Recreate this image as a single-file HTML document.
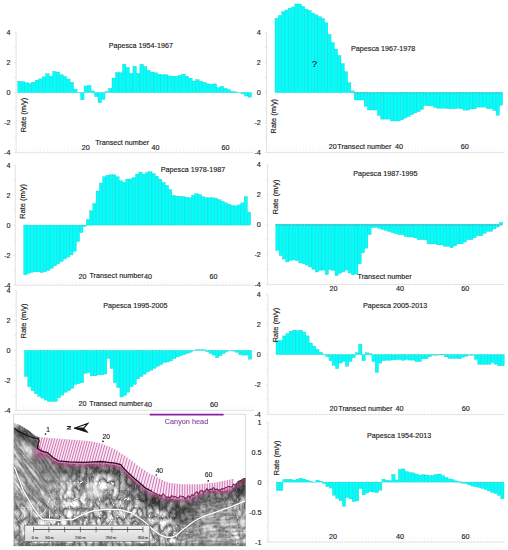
<!DOCTYPE html>
<html><head><meta charset="utf-8"><style>
html,body{margin:0;padding:0;background:#fff;}
svg{display:block;font-family:"Liberation Sans", sans-serif;}
text{stroke:#1c1c1c;stroke-width:0.14px;paint-order:stroke;}
</style></head><body>
<svg width="508" height="550" viewBox="0 0 508 550">
<rect width="508" height="550" fill="#fff"/>
<path d="M16.1 32.7V152.7H254" stroke="#dadada" stroke-width="0.8" fill="none"/><path d="M14.100000000000001 32.70h2M14.100000000000001 47.70h2M14.100000000000001 62.70h2M14.100000000000001 77.70h2M14.100000000000001 92.70h2M14.100000000000001 107.70h2M14.100000000000001 122.70h2M14.100000000000001 137.70h2M14.100000000000001 152.70h2" stroke="#dadada" stroke-width="0.6" fill="none"/><path d="M19.50 152.7v-5M22.99 152.7v-5M26.48 152.7v-5M29.97 152.7v-5M33.46 152.7v-5M36.95 152.7v-5M40.44 152.7v-5M43.93 152.7v-5M47.42 152.7v-5M50.91 152.7v-5M54.40 152.7v-5M57.89 152.7v-5M61.38 152.7v-5M64.87 152.7v-5M68.36 152.7v-5M71.85 152.7v-5M75.34 152.7v-5M78.83 152.7v-5M82.32 152.7v-5M85.81 152.7v-5M89.30 152.7v-5M92.79 152.7v-5M96.28 152.7v-5M99.77 152.7v-5M103.26 152.7v-5M106.75 152.7v-5M110.24 152.7v-5M113.73 152.7v-5M117.22 152.7v-5M120.71 152.7v-5M124.20 152.7v-5M127.69 152.7v-5M131.18 152.7v-5M134.67 152.7v-5M138.16 152.7v-5M141.65 152.7v-5M145.14 152.7v-5M148.63 152.7v-5M152.12 152.7v-5M155.61 152.7v-5M159.10 152.7v-5M162.59 152.7v-5M166.08 152.7v-5M169.57 152.7v-5M173.06 152.7v-5M176.55 152.7v-5M180.04 152.7v-5M183.53 152.7v-5M187.02 152.7v-5M190.51 152.7v-5M194.00 152.7v-5M197.49 152.7v-5M200.98 152.7v-5M204.47 152.7v-5M207.96 152.7v-5M211.45 152.7v-5M214.94 152.7v-5M218.43 152.7v-5M221.92 152.7v-5M225.41 152.7v-5M228.90 152.7v-5M232.39 152.7v-5M235.88 152.7v-5M239.37 152.7v-5M242.86 152.7v-5M246.35 152.7v-5M249.84 152.7v-5M253.33 152.7v-5" stroke="#f1f1f1" stroke-width="0.6" fill="none"/><text x="10.6" y="35.300000000000004" font-size="7.2" text-anchor="end" fill="#1a1a1a" >4</text><text x="10.6" y="65.3" font-size="7.2" text-anchor="end" fill="#1a1a1a" >2</text><text x="10.6" y="95.3" font-size="7.2" text-anchor="end" fill="#1a1a1a" >0</text><text x="10.6" y="125.3" font-size="7.2" text-anchor="end" fill="#1a1a1a" >-2</text><text x="10.6" y="155.29999999999998" font-size="7.2" text-anchor="end" fill="#1a1a1a" >-4</text><g fill="#05fdf9" stroke="#18ccd2" stroke-width="0.35"><rect x="17.80" y="81.31" width="3.49" height="11.29"/><rect x="21.29" y="81.76" width="3.49" height="10.84"/><rect x="24.78" y="82.67" width="3.49" height="9.93"/><rect x="28.26" y="83.42" width="3.49" height="9.18"/><rect x="31.75" y="82.22" width="3.49" height="10.38"/><rect x="35.24" y="80.11" width="3.49" height="12.49"/><rect x="38.73" y="78.90" width="3.49" height="13.70"/><rect x="42.22" y="76.80" width="3.49" height="15.80"/><rect x="45.70" y="73.79" width="3.49" height="18.81"/><rect x="49.19" y="76.35" width="3.49" height="16.25"/><rect x="52.68" y="71.53" width="3.49" height="21.07"/><rect x="56.17" y="72.13" width="3.49" height="20.47"/><rect x="59.66" y="74.69" width="3.49" height="17.91"/><rect x="63.14" y="76.50" width="3.49" height="16.10"/><rect x="66.63" y="79.05" width="3.49" height="13.55"/><rect x="70.12" y="82.22" width="3.49" height="10.38"/><rect x="73.61" y="89.14" width="3.49" height="3.46"/><rect x="77.10" y="92.15" width="3.49" height="0.45"/><rect x="80.59" y="92.60" width="3.49" height="7.22"/><rect x="84.07" y="85.98" width="3.49" height="6.62"/><rect x="87.56" y="85.38" width="3.49" height="7.22"/><rect x="91.05" y="90.94" width="3.49" height="1.66"/><rect x="94.54" y="92.60" width="3.49" height="4.06"/><rect x="98.03" y="92.60" width="3.49" height="10.08"/><rect x="101.51" y="92.60" width="3.49" height="6.77"/><rect x="105.00" y="91.55" width="3.49" height="1.05"/><rect x="108.49" y="88.39" width="3.49" height="4.21"/><rect x="111.98" y="78.00" width="3.49" height="14.60"/><rect x="115.47" y="72.58" width="3.49" height="20.02"/><rect x="118.95" y="72.73" width="3.49" height="19.87"/><rect x="122.44" y="64.16" width="3.49" height="28.44"/><rect x="125.93" y="67.47" width="3.49" height="25.13"/><rect x="129.42" y="73.34" width="3.49" height="19.26"/><rect x="132.91" y="66.26" width="3.49" height="26.34"/><rect x="136.39" y="73.34" width="3.49" height="19.26"/><rect x="139.88" y="64.31" width="3.49" height="28.29"/><rect x="143.37" y="66.56" width="3.49" height="26.04"/><rect x="146.86" y="70.33" width="3.49" height="22.27"/><rect x="150.35" y="72.13" width="3.49" height="20.47"/><rect x="153.83" y="72.73" width="3.49" height="19.87"/><rect x="157.32" y="74.24" width="3.49" height="18.36"/><rect x="160.81" y="74.69" width="3.49" height="17.91"/><rect x="164.30" y="74.69" width="3.49" height="17.91"/><rect x="167.79" y="75.89" width="3.49" height="16.71"/><rect x="171.27" y="76.20" width="3.49" height="16.40"/><rect x="174.76" y="76.20" width="3.49" height="16.40"/><rect x="178.25" y="75.29" width="3.49" height="17.31"/><rect x="181.74" y="74.09" width="3.49" height="18.51"/><rect x="185.23" y="76.35" width="3.49" height="16.25"/><rect x="188.71" y="78.15" width="3.49" height="14.45"/><rect x="192.20" y="81.01" width="3.49" height="11.59"/><rect x="195.69" y="79.66" width="3.49" height="12.94"/><rect x="199.18" y="81.31" width="3.49" height="11.29"/><rect x="202.67" y="82.37" width="3.49" height="10.23"/><rect x="206.16" y="83.87" width="3.49" height="8.73"/><rect x="209.64" y="84.17" width="3.49" height="8.43"/><rect x="213.13" y="83.87" width="3.49" height="8.73"/><rect x="216.62" y="87.63" width="3.49" height="4.97"/><rect x="220.11" y="86.28" width="3.49" height="6.32"/><rect x="223.60" y="88.39" width="3.49" height="4.21"/><rect x="227.08" y="89.74" width="3.49" height="2.86"/><rect x="230.57" y="91.40" width="3.49" height="1.20"/><rect x="234.06" y="91.85" width="3.49" height="0.75"/><rect x="237.55" y="92.30" width="3.49" height="0.30"/><rect x="241.04" y="92.60" width="3.49" height="1.35"/><rect x="244.52" y="92.60" width="3.49" height="3.46"/><rect x="248.01" y="92.60" width="3.49" height="4.52"/></g><text x="140.8" y="48.4" font-size="7.2" text-anchor="middle" fill="#1a1a1a" >Papesca 1954-1967</text><text x="0" y="0" font-size="7.4" text-anchor="middle" fill="#1a1a1a" transform="translate(26.3 115.1) rotate(-90)">Rate (m/y)</text><text x="122.2" y="144.8" font-size="7.2" text-anchor="middle" fill="#1a1a1a" >Transect number</text><text x="85.8" y="150" font-size="7.2" text-anchor="middle" fill="#1a1a1a" >20</text><text x="155.6" y="150" font-size="7.2" text-anchor="middle" fill="#1a1a1a" >40</text><text x="225.6" y="150" font-size="7.2" text-anchor="middle" fill="#1a1a1a" >60</text><path d="M266.6 32.6V152.6H504.5" stroke="#dadada" stroke-width="0.8" fill="none"/><path d="M264.6 32.60h2M264.6 47.60h2M264.6 62.60h2M264.6 77.60h2M264.6 92.60h2M264.6 107.60h2M264.6 122.60h2M264.6 137.60h2M264.6 152.60h2" stroke="#dadada" stroke-width="0.6" fill="none"/><path d="M270.10 152.6v-5M273.40 152.6v-5M276.70 152.6v-5M280.00 152.6v-5M283.30 152.6v-5M286.60 152.6v-5M289.90 152.6v-5M293.20 152.6v-5M296.50 152.6v-5M299.80 152.6v-5M303.10 152.6v-5M306.40 152.6v-5M309.70 152.6v-5M313.00 152.6v-5M316.30 152.6v-5M319.60 152.6v-5M322.90 152.6v-5M326.20 152.6v-5M329.50 152.6v-5M332.80 152.6v-5M336.10 152.6v-5M339.40 152.6v-5M342.70 152.6v-5M346.00 152.6v-5M349.30 152.6v-5M352.60 152.6v-5M355.90 152.6v-5M359.20 152.6v-5M362.50 152.6v-5M365.80 152.6v-5M369.10 152.6v-5M372.40 152.6v-5M375.70 152.6v-5M379.00 152.6v-5M382.30 152.6v-5M385.60 152.6v-5M388.90 152.6v-5M392.20 152.6v-5M395.50 152.6v-5M398.80 152.6v-5M402.10 152.6v-5M405.40 152.6v-5M408.70 152.6v-5M412.00 152.6v-5M415.30 152.6v-5M418.60 152.6v-5M421.90 152.6v-5M425.20 152.6v-5M428.50 152.6v-5M431.80 152.6v-5M435.10 152.6v-5M438.40 152.6v-5M441.70 152.6v-5M445.00 152.6v-5M448.30 152.6v-5M451.60 152.6v-5M454.90 152.6v-5M458.20 152.6v-5M461.50 152.6v-5M464.80 152.6v-5M468.10 152.6v-5M471.40 152.6v-5M474.70 152.6v-5M478.00 152.6v-5M481.30 152.6v-5M484.60 152.6v-5M487.90 152.6v-5M491.20 152.6v-5M494.50 152.6v-5M497.80 152.6v-5M501.10 152.6v-5M504.40 152.6v-5" stroke="#f1f1f1" stroke-width="0.6" fill="none"/><text x="260.8" y="35.2" font-size="7.2" text-anchor="end" fill="#1a1a1a" >4</text><text x="260.8" y="65.2" font-size="7.2" text-anchor="end" fill="#1a1a1a" >2</text><text x="260.8" y="95.19999999999999" font-size="7.2" text-anchor="end" fill="#1a1a1a" >0</text><text x="260.8" y="125.19999999999999" font-size="7.2" text-anchor="end" fill="#1a1a1a" >-2</text><text x="260.8" y="155.2" font-size="7.2" text-anchor="end" fill="#1a1a1a" >-4</text><g fill="#05fdf9" stroke="#18ccd2" stroke-width="0.35"><rect x="275.00" y="18.20" width="3.30" height="74.40"/><rect x="278.30" y="15.50" width="3.30" height="77.10"/><rect x="281.60" y="11.80" width="3.30" height="80.80"/><rect x="284.90" y="10.00" width="3.30" height="82.60"/><rect x="288.20" y="8.20" width="3.30" height="84.40"/><rect x="291.50" y="6.90" width="3.30" height="85.70"/><rect x="294.80" y="4.00" width="3.30" height="88.60"/><rect x="298.10" y="4.00" width="3.30" height="88.60"/><rect x="301.40" y="6.40" width="3.30" height="86.20"/><rect x="304.70" y="9.10" width="3.30" height="83.50"/><rect x="308.00" y="10.50" width="3.30" height="82.10"/><rect x="311.30" y="13.10" width="3.30" height="79.50"/><rect x="314.60" y="14.90" width="3.30" height="77.70"/><rect x="317.90" y="16.70" width="3.30" height="75.90"/><rect x="321.20" y="18.50" width="3.30" height="74.10"/><rect x="324.50" y="22.70" width="3.30" height="69.90"/><rect x="327.80" y="34.50" width="3.30" height="58.10"/><rect x="331.10" y="42.70" width="3.30" height="49.90"/><rect x="334.40" y="49.10" width="3.30" height="43.50"/><rect x="337.70" y="55.50" width="3.30" height="37.10"/><rect x="341.00" y="63.60" width="3.30" height="29.00"/><rect x="344.30" y="71.80" width="3.30" height="20.80"/><rect x="347.60" y="82.70" width="3.30" height="9.90"/><rect x="350.90" y="90.90" width="3.30" height="1.70"/><rect x="354.20" y="92.60" width="3.30" height="7.40"/><rect x="357.50" y="92.60" width="3.30" height="7.40"/><rect x="360.80" y="92.60" width="3.30" height="7.40"/><rect x="364.10" y="92.60" width="3.30" height="13.80"/><rect x="367.40" y="92.60" width="3.30" height="17.40"/><rect x="370.70" y="92.60" width="3.30" height="17.40"/><rect x="374.00" y="92.60" width="3.30" height="17.40"/><rect x="377.30" y="92.60" width="3.30" height="22.90"/><rect x="380.60" y="92.60" width="3.30" height="26.50"/><rect x="383.90" y="92.60" width="3.30" height="26.50"/><rect x="387.20" y="92.60" width="3.30" height="26.50"/><rect x="390.50" y="92.60" width="3.30" height="28.40"/><rect x="393.80" y="92.60" width="3.30" height="28.40"/><rect x="397.10" y="92.60" width="3.30" height="28.40"/><rect x="400.40" y="92.60" width="3.30" height="27.20"/><rect x="403.70" y="92.60" width="3.30" height="25.40"/><rect x="407.00" y="92.60" width="3.30" height="23.80"/><rect x="410.30" y="92.60" width="3.30" height="22.10"/><rect x="413.60" y="92.60" width="3.30" height="20.30"/><rect x="416.90" y="92.60" width="3.30" height="19.10"/><rect x="420.20" y="92.60" width="3.30" height="16.80"/><rect x="423.50" y="92.60" width="3.30" height="12.80"/><rect x="426.80" y="92.60" width="3.30" height="13.30"/><rect x="430.10" y="92.60" width="3.30" height="13.30"/><rect x="433.40" y="92.60" width="3.30" height="14.90"/><rect x="436.70" y="92.60" width="3.30" height="15.60"/><rect x="440.00" y="92.60" width="3.30" height="15.60"/><rect x="443.30" y="92.60" width="3.30" height="15.60"/><rect x="446.60" y="92.60" width="3.30" height="16.10"/><rect x="449.90" y="92.60" width="3.30" height="16.10"/><rect x="453.20" y="92.60" width="3.30" height="16.10"/><rect x="456.50" y="92.60" width="3.30" height="15.60"/><rect x="459.80" y="92.60" width="3.30" height="16.10"/><rect x="463.10" y="92.60" width="3.30" height="17.50"/><rect x="466.40" y="92.60" width="3.30" height="17.50"/><rect x="469.70" y="92.60" width="3.30" height="16.30"/><rect x="473.00" y="92.60" width="3.30" height="16.30"/><rect x="476.30" y="92.60" width="3.30" height="14.50"/><rect x="479.60" y="92.60" width="3.30" height="14.50"/><rect x="482.90" y="92.60" width="3.30" height="14.50"/><rect x="486.20" y="92.60" width="3.30" height="16.10"/><rect x="489.50" y="92.60" width="3.30" height="16.10"/><rect x="492.80" y="92.60" width="3.30" height="17.90"/><rect x="496.10" y="92.60" width="3.30" height="22.60"/><rect x="499.40" y="92.60" width="3.30" height="12.60"/></g><path d="M353.6 92.9H502.7" stroke="#2aa8b4" stroke-width="0.7" opacity="0.6"/><text x="383.2" y="51.4" font-size="7.2" text-anchor="middle" fill="#1a1a1a" >Papesca 1967-1978</text><text x="314.3" y="66.8" font-size="9.6" text-anchor="middle" fill="#1a1a1a" >?</text><text x="0" y="0" font-size="7.4" text-anchor="middle" fill="#1a1a1a" transform="translate(276.0 116.2) rotate(-90)">Rate (m/y)</text><text x="337.3" y="149.2" font-size="7.2" text-anchor="start" fill="#1a1a1a" >Transect number</text><text x="332.8" y="149.2" font-size="7.2" text-anchor="middle" fill="#1a1a1a" >20</text><text x="399" y="149.2" font-size="7.2" text-anchor="middle" fill="#1a1a1a" >40</text><text x="464.7" y="149.2" font-size="7.2" text-anchor="middle" fill="#1a1a1a" >60</text><path d="M15.3 165.1V285.1H254" stroke="#dadada" stroke-width="0.8" fill="none"/><path d="M13.3 165.10h2M13.3 180.10h2M13.3 195.10h2M13.3 210.10h2M13.3 225.10h2M13.3 240.10h2M13.3 255.10h2M13.3 270.10h2M13.3 285.10h2" stroke="#dadada" stroke-width="0.6" fill="none"/><path d="M20.50 285.1v-5M23.77 285.1v-5M27.04 285.1v-5M30.31 285.1v-5M33.58 285.1v-5M36.85 285.1v-5M40.12 285.1v-5M43.39 285.1v-5M46.66 285.1v-5M49.93 285.1v-5M53.20 285.1v-5M56.47 285.1v-5M59.74 285.1v-5M63.01 285.1v-5M66.28 285.1v-5M69.55 285.1v-5M72.82 285.1v-5M76.09 285.1v-5M79.36 285.1v-5M82.63 285.1v-5M85.90 285.1v-5M89.17 285.1v-5M92.44 285.1v-5M95.71 285.1v-5M98.98 285.1v-5M102.25 285.1v-5M105.52 285.1v-5M108.79 285.1v-5M112.06 285.1v-5M115.33 285.1v-5M118.60 285.1v-5M121.87 285.1v-5M125.14 285.1v-5M128.41 285.1v-5M131.68 285.1v-5M134.95 285.1v-5M138.22 285.1v-5M141.49 285.1v-5M144.76 285.1v-5M148.03 285.1v-5M151.30 285.1v-5M154.57 285.1v-5M157.84 285.1v-5M161.11 285.1v-5M164.38 285.1v-5M167.65 285.1v-5M170.92 285.1v-5M174.19 285.1v-5M177.46 285.1v-5M180.73 285.1v-5M184.00 285.1v-5M187.27 285.1v-5M190.54 285.1v-5M193.81 285.1v-5M197.08 285.1v-5M200.35 285.1v-5M203.62 285.1v-5M206.89 285.1v-5M210.16 285.1v-5M213.43 285.1v-5M216.70 285.1v-5M219.97 285.1v-5M223.24 285.1v-5M226.51 285.1v-5M229.78 285.1v-5M233.05 285.1v-5M236.32 285.1v-5M239.59 285.1v-5M242.86 285.1v-5M246.13 285.1v-5M249.40 285.1v-5M252.67 285.1v-5" stroke="#f1f1f1" stroke-width="0.6" fill="none"/><text x="10.6" y="167.7" font-size="7.2" text-anchor="end" fill="#1a1a1a" >4</text><text x="10.6" y="197.7" font-size="7.2" text-anchor="end" fill="#1a1a1a" >2</text><text x="10.6" y="227.7" font-size="7.2" text-anchor="end" fill="#1a1a1a" >0</text><text x="10.6" y="257.7" font-size="7.2" text-anchor="end" fill="#1a1a1a" >-2</text><text x="10.6" y="287.70000000000005" font-size="7.2" text-anchor="end" fill="#1a1a1a" >-4</text><g fill="#05fdf9" stroke="#18ccd2" stroke-width="0.35"><rect x="23.70" y="225.10" width="3.29" height="49.70"/><rect x="26.99" y="225.10" width="3.29" height="48.20"/><rect x="30.28" y="225.10" width="3.29" height="47.20"/><rect x="33.57" y="225.10" width="3.29" height="46.70"/><rect x="36.86" y="225.10" width="3.29" height="46.70"/><rect x="40.15" y="225.10" width="3.29" height="47.50"/><rect x="43.44" y="225.10" width="3.29" height="46.70"/><rect x="46.73" y="225.10" width="3.29" height="45.30"/><rect x="50.02" y="225.10" width="3.29" height="43.10"/><rect x="53.31" y="225.10" width="3.29" height="40.80"/><rect x="56.60" y="225.10" width="3.29" height="38.60"/><rect x="59.89" y="225.10" width="3.29" height="36.40"/><rect x="63.18" y="225.10" width="3.29" height="33.90"/><rect x="66.47" y="225.10" width="3.29" height="32.00"/><rect x="69.76" y="225.10" width="3.29" height="29.80"/><rect x="73.05" y="225.10" width="3.29" height="26.10"/><rect x="76.34" y="225.10" width="3.29" height="16.50"/><rect x="79.63" y="225.10" width="3.29" height="7.60"/><rect x="82.92" y="225.10" width="3.29" height="1.40"/><rect x="86.21" y="219.50" width="3.29" height="5.60"/><rect x="89.50" y="210.70" width="3.29" height="14.40"/><rect x="92.79" y="203.60" width="3.29" height="21.50"/><rect x="96.08" y="191.00" width="3.29" height="34.10"/><rect x="99.37" y="183.10" width="3.29" height="42.00"/><rect x="102.66" y="176.80" width="3.29" height="48.30"/><rect x="105.95" y="175.20" width="3.29" height="49.90"/><rect x="109.24" y="174.80" width="3.29" height="50.30"/><rect x="112.53" y="174.80" width="3.29" height="50.30"/><rect x="115.82" y="176.80" width="3.29" height="48.30"/><rect x="119.11" y="180.70" width="3.29" height="44.40"/><rect x="122.40" y="182.30" width="3.29" height="42.80"/><rect x="125.69" y="179.20" width="3.29" height="45.90"/><rect x="128.98" y="178.90" width="3.29" height="46.20"/><rect x="132.27" y="177.60" width="3.29" height="47.50"/><rect x="135.56" y="174.10" width="3.29" height="51.00"/><rect x="138.84" y="172.10" width="3.29" height="53.00"/><rect x="142.13" y="174.10" width="3.29" height="51.00"/><rect x="145.42" y="172.60" width="3.29" height="52.50"/><rect x="148.71" y="171.80" width="3.29" height="53.30"/><rect x="152.00" y="173.60" width="3.29" height="51.50"/><rect x="155.29" y="176.30" width="3.29" height="48.80"/><rect x="158.58" y="179.30" width="3.29" height="45.80"/><rect x="161.87" y="182.40" width="3.29" height="42.70"/><rect x="165.16" y="185.50" width="3.29" height="39.60"/><rect x="168.45" y="189.60" width="3.29" height="35.50"/><rect x="171.74" y="195.30" width="3.29" height="29.80"/><rect x="175.03" y="196.10" width="3.29" height="29.00"/><rect x="178.32" y="196.30" width="3.29" height="28.80"/><rect x="181.61" y="196.70" width="3.29" height="28.40"/><rect x="184.90" y="197.30" width="3.29" height="27.80"/><rect x="188.19" y="197.80" width="3.29" height="27.30"/><rect x="191.48" y="195.30" width="3.29" height="29.80"/><rect x="194.77" y="193.70" width="3.29" height="31.40"/><rect x="198.06" y="194.70" width="3.29" height="30.40"/><rect x="201.35" y="196.70" width="3.29" height="28.40"/><rect x="204.64" y="197.80" width="3.29" height="27.30"/><rect x="207.93" y="197.80" width="3.29" height="27.30"/><rect x="211.22" y="197.80" width="3.29" height="27.30"/><rect x="214.51" y="198.20" width="3.29" height="26.90"/><rect x="217.80" y="199.80" width="3.29" height="25.30"/><rect x="221.09" y="201.40" width="3.29" height="23.70"/><rect x="224.38" y="202.90" width="3.29" height="22.20"/><rect x="227.67" y="204.30" width="3.29" height="20.80"/><rect x="230.96" y="205.50" width="3.29" height="19.60"/><rect x="234.25" y="205.90" width="3.29" height="19.20"/><rect x="237.54" y="204.90" width="3.29" height="20.20"/><rect x="240.83" y="202.90" width="3.29" height="22.20"/><rect x="244.12" y="196.70" width="3.29" height="28.40"/><rect x="247.41" y="212.10" width="3.29" height="13.00"/></g><text x="193" y="171.8" font-size="7.2" text-anchor="middle" fill="#1a1a1a" >Papesca 1978-1987</text><text x="0" y="0" font-size="7.4" text-anchor="middle" fill="#1a1a1a" transform="translate(24.9 201.4) rotate(-90)">Rate (m/y)</text><text x="89.5" y="277.7" font-size="7.2" text-anchor="start" fill="#1a1a1a" >Transect number</text><text x="82.6" y="279.3" font-size="7.2" text-anchor="middle" fill="#1a1a1a" >20</text><text x="148" y="279.3" font-size="7.2" text-anchor="middle" fill="#1a1a1a" >40</text><text x="213.5" y="279.3" font-size="7.2" text-anchor="middle" fill="#1a1a1a" >60</text><path d="M267.6 164.6V284.6H504.5" stroke="#dadada" stroke-width="0.8" fill="none"/><path d="M265.6 164.60h2M265.6 179.60h2M265.6 194.60h2M265.6 209.60h2M265.6 224.60h2M265.6 239.60h2M265.6 254.60h2M265.6 269.60h2M265.6 284.60h2" stroke="#dadada" stroke-width="0.6" fill="none"/><path d="M270.30 284.6v-5M273.60 284.6v-5M276.90 284.6v-5M280.20 284.6v-5M283.50 284.6v-5M286.80 284.6v-5M290.10 284.6v-5M293.40 284.6v-5M296.70 284.6v-5M300.00 284.6v-5M303.30 284.6v-5M306.60 284.6v-5M309.90 284.6v-5M313.20 284.6v-5M316.50 284.6v-5M319.80 284.6v-5M323.10 284.6v-5M326.40 284.6v-5M329.70 284.6v-5M333.00 284.6v-5M336.30 284.6v-5M339.60 284.6v-5M342.90 284.6v-5M346.20 284.6v-5M349.50 284.6v-5M352.80 284.6v-5M356.10 284.6v-5M359.40 284.6v-5M362.70 284.6v-5M366.00 284.6v-5M369.30 284.6v-5M372.60 284.6v-5M375.90 284.6v-5M379.20 284.6v-5M382.50 284.6v-5M385.80 284.6v-5M389.10 284.6v-5M392.40 284.6v-5M395.70 284.6v-5M399.00 284.6v-5M402.30 284.6v-5M405.60 284.6v-5M408.90 284.6v-5M412.20 284.6v-5M415.50 284.6v-5M418.80 284.6v-5M422.10 284.6v-5M425.40 284.6v-5M428.70 284.6v-5M432.00 284.6v-5M435.30 284.6v-5M438.60 284.6v-5M441.90 284.6v-5M445.20 284.6v-5M448.50 284.6v-5M451.80 284.6v-5M455.10 284.6v-5M458.40 284.6v-5M461.70 284.6v-5M465.00 284.6v-5M468.30 284.6v-5M471.60 284.6v-5M474.90 284.6v-5M478.20 284.6v-5M481.50 284.6v-5M484.80 284.6v-5M488.10 284.6v-5M491.40 284.6v-5M494.70 284.6v-5M498.00 284.6v-5M501.30 284.6v-5" stroke="#f1f1f1" stroke-width="0.6" fill="none"/><text x="260.8" y="167.2" font-size="7.2" text-anchor="end" fill="#1a1a1a" >4</text><text x="260.8" y="197.2" font-size="7.2" text-anchor="end" fill="#1a1a1a" >2</text><text x="260.8" y="227.2" font-size="7.2" text-anchor="end" fill="#1a1a1a" >0</text><text x="260.8" y="257.2" font-size="7.2" text-anchor="end" fill="#1a1a1a" >-2</text><text x="260.8" y="287.20000000000005" font-size="7.2" text-anchor="end" fill="#1a1a1a" >-4</text><g fill="#05fdf9" stroke="#18ccd2" stroke-width="0.35"><rect x="275.80" y="224.60" width="3.29" height="25.80"/><rect x="279.09" y="224.60" width="3.29" height="31.00"/><rect x="282.37" y="224.60" width="3.29" height="34.50"/><rect x="285.66" y="224.60" width="3.29" height="37.30"/><rect x="288.95" y="224.60" width="3.29" height="35.80"/><rect x="292.23" y="224.60" width="3.29" height="35.30"/><rect x="295.52" y="224.60" width="3.29" height="36.10"/><rect x="298.81" y="224.60" width="3.29" height="38.40"/><rect x="302.10" y="224.60" width="3.29" height="39.20"/><rect x="305.38" y="224.60" width="3.29" height="40.50"/><rect x="308.67" y="224.60" width="3.29" height="42.40"/><rect x="311.96" y="224.60" width="3.29" height="44.70"/><rect x="315.24" y="224.60" width="3.29" height="47.40"/><rect x="318.53" y="224.60" width="3.29" height="45.80"/><rect x="321.82" y="224.60" width="3.29" height="45.50"/><rect x="325.10" y="224.60" width="3.29" height="49.90"/><rect x="328.39" y="224.60" width="3.29" height="45.10"/><rect x="331.68" y="224.60" width="3.29" height="45.80"/><rect x="334.97" y="224.60" width="3.29" height="51.00"/><rect x="338.25" y="224.60" width="3.29" height="48.70"/><rect x="341.54" y="224.60" width="3.29" height="47.40"/><rect x="344.83" y="224.60" width="3.29" height="45.50"/><rect x="348.11" y="224.60" width="3.29" height="48.40"/><rect x="351.40" y="224.60" width="3.29" height="50.20"/><rect x="354.69" y="224.60" width="3.29" height="49.50"/><rect x="357.97" y="224.60" width="3.29" height="39.20"/><rect x="361.26" y="224.60" width="3.29" height="28.20"/><rect x="364.55" y="224.60" width="3.29" height="23.50"/><rect x="367.83" y="224.60" width="3.29" height="10.10"/><rect x="371.12" y="224.60" width="3.29" height="3.00"/><rect x="374.41" y="224.60" width="3.29" height="2.70"/><rect x="377.70" y="224.60" width="3.29" height="3.80"/><rect x="380.98" y="224.60" width="3.29" height="4.90"/><rect x="384.27" y="224.60" width="3.29" height="5.80"/><rect x="387.56" y="224.60" width="3.29" height="6.90"/><rect x="390.84" y="224.60" width="3.29" height="8.00"/><rect x="394.13" y="224.60" width="3.29" height="9.00"/><rect x="397.42" y="224.60" width="3.29" height="10.10"/><rect x="400.70" y="224.60" width="3.29" height="10.10"/><rect x="403.99" y="224.60" width="3.29" height="11.70"/><rect x="407.28" y="224.60" width="3.29" height="12.40"/><rect x="410.57" y="224.60" width="3.29" height="12.40"/><rect x="413.85" y="224.60" width="3.29" height="13.40"/><rect x="417.14" y="224.60" width="3.29" height="15.10"/><rect x="420.43" y="224.60" width="3.29" height="15.10"/><rect x="423.71" y="224.60" width="3.29" height="15.10"/><rect x="427.00" y="224.60" width="3.29" height="19.30"/><rect x="430.29" y="224.60" width="3.29" height="19.30"/><rect x="433.57" y="224.60" width="3.29" height="19.30"/><rect x="436.86" y="224.60" width="3.29" height="20.30"/><rect x="440.15" y="224.60" width="3.29" height="20.30"/><rect x="443.43" y="224.60" width="3.29" height="21.70"/><rect x="446.72" y="224.60" width="3.29" height="21.70"/><rect x="450.01" y="224.60" width="3.29" height="23.20"/><rect x="453.30" y="224.60" width="3.29" height="21.30"/><rect x="456.58" y="224.60" width="3.29" height="19.30"/><rect x="459.87" y="224.60" width="3.29" height="19.30"/><rect x="463.16" y="224.60" width="3.29" height="17.40"/><rect x="466.44" y="224.60" width="3.29" height="15.10"/><rect x="469.73" y="224.60" width="3.29" height="15.10"/><rect x="473.02" y="224.60" width="3.29" height="13.20"/><rect x="476.30" y="224.60" width="3.29" height="11.20"/><rect x="479.59" y="224.60" width="3.29" height="11.20"/><rect x="482.88" y="224.60" width="3.29" height="8.70"/><rect x="486.17" y="224.60" width="3.29" height="6.80"/><rect x="489.45" y="224.60" width="3.29" height="6.80"/><rect x="492.74" y="224.60" width="3.29" height="4.30"/><rect x="496.03" y="224.60" width="3.29" height="2.40"/><rect x="499.31" y="222.30" width="3.29" height="2.30"/></g><path d="M275.8 224.9H502.6" stroke="#2a9aa8" stroke-width="0.9" stroke-dasharray="2.3 1" opacity="0.85"/><text x="385.4" y="176.4" font-size="7.2" text-anchor="middle" fill="#1a1a1a" >Papesca 1987-1995</text><text x="0" y="0" font-size="7.4" text-anchor="middle" fill="#1a1a1a" transform="translate(277.9 196.9) rotate(-90)">Rate (m/y)</text><text x="357.6" y="279.2" font-size="7.2" text-anchor="start" fill="#1a1a1a" >Transect number</text><text x="333.4" y="290.6" font-size="7.2" text-anchor="middle" fill="#1a1a1a" >20</text><text x="400" y="290.6" font-size="7.2" text-anchor="middle" fill="#1a1a1a" >40</text><text x="465.3" y="290.6" font-size="7.2" text-anchor="middle" fill="#1a1a1a" >60</text><path d="M16.2 290.4V410.4H254" stroke="#dadada" stroke-width="0.8" fill="none"/><path d="M14.2 290.40h2M14.2 305.40h2M14.2 320.40h2M14.2 335.40h2M14.2 350.40h2M14.2 365.40h2M14.2 380.40h2M14.2 395.40h2M14.2 410.40h2" stroke="#dadada" stroke-width="0.6" fill="none"/><path d="M20.10 410.4v-5M23.38 410.4v-5M26.66 410.4v-5M29.94 410.4v-5M33.22 410.4v-5M36.50 410.4v-5M39.78 410.4v-5M43.06 410.4v-5M46.34 410.4v-5M49.62 410.4v-5M52.90 410.4v-5M56.18 410.4v-5M59.46 410.4v-5M62.74 410.4v-5M66.02 410.4v-5M69.30 410.4v-5M72.58 410.4v-5M75.86 410.4v-5M79.14 410.4v-5M82.42 410.4v-5M85.70 410.4v-5M88.98 410.4v-5M92.26 410.4v-5M95.54 410.4v-5M98.82 410.4v-5M102.10 410.4v-5M105.38 410.4v-5M108.66 410.4v-5M111.94 410.4v-5M115.22 410.4v-5M118.50 410.4v-5M121.78 410.4v-5M125.06 410.4v-5M128.34 410.4v-5M131.62 410.4v-5M134.90 410.4v-5M138.18 410.4v-5M141.46 410.4v-5M144.74 410.4v-5M148.02 410.4v-5M151.30 410.4v-5M154.58 410.4v-5M157.86 410.4v-5M161.14 410.4v-5M164.42 410.4v-5M167.70 410.4v-5M170.98 410.4v-5M174.26 410.4v-5M177.54 410.4v-5M180.82 410.4v-5M184.10 410.4v-5M187.38 410.4v-5M190.66 410.4v-5M193.94 410.4v-5M197.22 410.4v-5M200.50 410.4v-5M203.78 410.4v-5M207.06 410.4v-5M210.34 410.4v-5M213.62 410.4v-5M216.90 410.4v-5M220.18 410.4v-5M223.46 410.4v-5M226.74 410.4v-5M230.02 410.4v-5M233.30 410.4v-5M236.58 410.4v-5M239.86 410.4v-5M243.14 410.4v-5M246.42 410.4v-5M249.70 410.4v-5M252.98 410.4v-5" stroke="#f1f1f1" stroke-width="0.6" fill="none"/><text x="10.6" y="293.0" font-size="7.2" text-anchor="end" fill="#1a1a1a" >4</text><text x="10.6" y="323.0" font-size="7.2" text-anchor="end" fill="#1a1a1a" >2</text><text x="10.6" y="353.0" font-size="7.2" text-anchor="end" fill="#1a1a1a" >0</text><text x="10.6" y="383.0" font-size="7.2" text-anchor="end" fill="#1a1a1a" >-2</text><text x="10.6" y="413.0" font-size="7.2" text-anchor="end" fill="#1a1a1a" >-4</text><g fill="#05fdf9" stroke="#18ccd2" stroke-width="0.35"><rect x="24.40" y="350.40" width="3.29" height="26.10"/><rect x="27.69" y="350.40" width="3.29" height="36.30"/><rect x="30.99" y="350.40" width="3.29" height="40.30"/><rect x="34.28" y="350.40" width="3.29" height="43.40"/><rect x="37.58" y="350.40" width="3.29" height="45.80"/><rect x="40.87" y="350.40" width="3.29" height="47.80"/><rect x="44.17" y="350.40" width="3.29" height="49.70"/><rect x="47.46" y="350.40" width="3.29" height="51.00"/><rect x="50.75" y="350.40" width="3.29" height="51.00"/><rect x="54.05" y="350.40" width="3.29" height="51.00"/><rect x="57.34" y="350.40" width="3.29" height="47.40"/><rect x="60.64" y="350.40" width="3.29" height="44.70"/><rect x="63.93" y="350.40" width="3.29" height="41.80"/><rect x="67.22" y="350.40" width="3.29" height="40.30"/><rect x="70.52" y="350.40" width="3.29" height="37.90"/><rect x="73.81" y="350.40" width="3.29" height="34.00"/><rect x="77.11" y="350.40" width="3.29" height="33.20"/><rect x="80.40" y="350.40" width="3.29" height="32.40"/><rect x="83.70" y="350.40" width="3.29" height="22.90"/><rect x="86.99" y="350.40" width="3.29" height="22.20"/><rect x="90.28" y="350.40" width="3.29" height="25.50"/><rect x="93.58" y="350.40" width="3.29" height="25.50"/><rect x="96.87" y="350.40" width="3.29" height="24.50"/><rect x="100.17" y="350.40" width="3.29" height="24.50"/><rect x="103.46" y="350.40" width="3.29" height="23.70"/><rect x="106.76" y="350.40" width="3.29" height="8.00"/><rect x="110.05" y="350.40" width="3.29" height="18.20"/><rect x="113.34" y="350.40" width="3.29" height="32.40"/><rect x="116.64" y="350.40" width="3.29" height="37.10"/><rect x="119.93" y="350.40" width="3.29" height="46.60"/><rect x="123.23" y="350.40" width="3.29" height="45.00"/><rect x="126.52" y="350.40" width="3.29" height="41.80"/><rect x="129.81" y="350.40" width="3.29" height="36.30"/><rect x="133.11" y="350.40" width="3.29" height="34.00"/><rect x="136.40" y="350.40" width="3.29" height="28.50"/><rect x="139.70" y="350.40" width="3.29" height="26.10"/><rect x="142.99" y="350.40" width="3.29" height="23.70"/><rect x="146.29" y="350.40" width="3.29" height="21.40"/><rect x="149.58" y="350.40" width="3.29" height="19.80"/><rect x="152.87" y="350.40" width="3.29" height="17.90"/><rect x="156.17" y="350.40" width="3.29" height="15.90"/><rect x="159.46" y="350.40" width="3.29" height="14.30"/><rect x="162.76" y="350.40" width="3.29" height="12.10"/><rect x="166.05" y="350.40" width="3.29" height="11.60"/><rect x="169.34" y="350.40" width="3.29" height="10.50"/><rect x="172.64" y="350.40" width="3.29" height="8.30"/><rect x="175.93" y="350.40" width="3.29" height="6.50"/><rect x="179.23" y="350.40" width="3.29" height="5.30"/><rect x="182.52" y="350.40" width="3.29" height="4.20"/><rect x="185.82" y="350.40" width="3.29" height="3.00"/><rect x="189.11" y="350.40" width="3.29" height="1.80"/><rect x="192.40" y="350.40" width="3.29" height="0.40"/><rect x="195.70" y="349.70" width="3.29" height="0.70"/><rect x="198.99" y="349.70" width="3.29" height="0.70"/><rect x="202.29" y="349.70" width="3.29" height="0.70"/><rect x="205.58" y="350.40" width="3.29" height="1.20"/><rect x="208.88" y="350.40" width="3.29" height="3.00"/><rect x="212.17" y="350.40" width="3.29" height="4.70"/><rect x="215.46" y="350.40" width="3.29" height="7.40"/><rect x="218.76" y="350.40" width="3.29" height="5.30"/><rect x="222.05" y="350.40" width="3.29" height="3.00"/><rect x="225.35" y="350.40" width="3.29" height="1.20"/><rect x="228.64" y="350.40" width="3.29" height="0.40"/><rect x="231.93" y="350.40" width="3.29" height="0.70"/><rect x="235.23" y="350.40" width="3.29" height="1.80"/><rect x="238.52" y="350.40" width="3.29" height="4.20"/><rect x="241.82" y="350.40" width="3.29" height="4.70"/><rect x="245.11" y="350.40" width="3.29" height="4.70"/><rect x="248.41" y="350.40" width="3.29" height="8.80"/></g><text x="135.4" y="307.6" font-size="7.2" text-anchor="middle" fill="#1a1a1a" >Papesca 1995-2005</text><text x="0" y="0" font-size="7.4" text-anchor="middle" fill="#1a1a1a" transform="translate(26.1 320.9) rotate(-90)">Rate (m/y)</text><text x="89.3" y="405.5" font-size="7.2" text-anchor="start" fill="#1a1a1a" >Transect number</text><text x="82.4" y="406.4" font-size="7.2" text-anchor="middle" fill="#1a1a1a" >20</text><text x="148.1" y="406.8" font-size="7.2" text-anchor="middle" fill="#1a1a1a" >40</text><text x="214" y="406.8" font-size="7.2" text-anchor="middle" fill="#1a1a1a" >60</text><path d="M267.9 294.6V414.6H504.5" stroke="#dadada" stroke-width="0.8" fill="none"/><path d="M265.9 294.60h2M265.9 309.60h2M265.9 324.60h2M265.9 339.60h2M265.9 354.60h2M265.9 369.60h2M265.9 384.60h2M265.9 399.60h2M265.9 414.60h2" stroke="#dadada" stroke-width="0.6" fill="none"/><path d="M269.80 414.6v-5M273.10 414.6v-5M276.40 414.6v-5M279.70 414.6v-5M283.00 414.6v-5M286.30 414.6v-5M289.60 414.6v-5M292.90 414.6v-5M296.20 414.6v-5M299.50 414.6v-5M302.80 414.6v-5M306.10 414.6v-5M309.40 414.6v-5M312.70 414.6v-5M316.00 414.6v-5M319.30 414.6v-5M322.60 414.6v-5M325.90 414.6v-5M329.20 414.6v-5M332.50 414.6v-5M335.80 414.6v-5M339.10 414.6v-5M342.40 414.6v-5M345.70 414.6v-5M349.00 414.6v-5M352.30 414.6v-5M355.60 414.6v-5M358.90 414.6v-5M362.20 414.6v-5M365.50 414.6v-5M368.80 414.6v-5M372.10 414.6v-5M375.40 414.6v-5M378.70 414.6v-5M382.00 414.6v-5M385.30 414.6v-5M388.60 414.6v-5M391.90 414.6v-5M395.20 414.6v-5M398.50 414.6v-5M401.80 414.6v-5M405.10 414.6v-5M408.40 414.6v-5M411.70 414.6v-5M415.00 414.6v-5M418.30 414.6v-5M421.60 414.6v-5M424.90 414.6v-5M428.20 414.6v-5M431.50 414.6v-5M434.80 414.6v-5M438.10 414.6v-5M441.40 414.6v-5M444.70 414.6v-5M448.00 414.6v-5M451.30 414.6v-5M454.60 414.6v-5M457.90 414.6v-5M461.20 414.6v-5M464.50 414.6v-5M467.80 414.6v-5M471.10 414.6v-5M474.40 414.6v-5M477.70 414.6v-5M481.00 414.6v-5M484.30 414.6v-5M487.60 414.6v-5M490.90 414.6v-5M494.20 414.6v-5M497.50 414.6v-5M500.80 414.6v-5M504.10 414.6v-5" stroke="#f1f1f1" stroke-width="0.6" fill="none"/><text x="260.8" y="297.20000000000005" font-size="7.2" text-anchor="end" fill="#1a1a1a" >4</text><text x="260.8" y="327.20000000000005" font-size="7.2" text-anchor="end" fill="#1a1a1a" >2</text><text x="260.8" y="357.20000000000005" font-size="7.2" text-anchor="end" fill="#1a1a1a" >0</text><text x="260.8" y="387.20000000000005" font-size="7.2" text-anchor="end" fill="#1a1a1a" >-2</text><text x="260.8" y="417.20000000000005" font-size="7.2" text-anchor="end" fill="#1a1a1a" >-4</text><g fill="#05fdf9" stroke="#18ccd2" stroke-width="0.35"><rect x="276.00" y="340.60" width="3.31" height="14.00"/><rect x="279.31" y="340.60" width="3.31" height="14.00"/><rect x="282.61" y="335.90" width="3.31" height="18.70"/><rect x="285.92" y="333.50" width="3.31" height="21.10"/><rect x="289.23" y="331.20" width="3.31" height="23.40"/><rect x="292.54" y="330.10" width="3.31" height="24.50"/><rect x="295.84" y="330.70" width="3.31" height="23.90"/><rect x="299.15" y="330.10" width="3.31" height="24.50"/><rect x="302.46" y="332.00" width="3.31" height="22.60"/><rect x="305.77" y="335.90" width="3.31" height="18.70"/><rect x="309.07" y="343.00" width="3.31" height="11.60"/><rect x="312.38" y="346.10" width="3.31" height="8.50"/><rect x="315.69" y="349.30" width="3.31" height="5.30"/><rect x="318.99" y="352.10" width="3.31" height="2.50"/><rect x="322.30" y="354.00" width="3.31" height="0.60"/><rect x="325.61" y="354.60" width="3.31" height="1.90"/><rect x="328.92" y="354.60" width="3.31" height="6.10"/><rect x="332.22" y="354.60" width="3.31" height="10.80"/><rect x="335.53" y="354.60" width="3.31" height="14.00"/><rect x="338.84" y="354.60" width="3.31" height="8.50"/><rect x="342.14" y="354.60" width="3.31" height="6.90"/><rect x="345.45" y="354.60" width="3.31" height="11.60"/><rect x="348.76" y="354.60" width="3.31" height="6.90"/><rect x="352.07" y="354.60" width="3.31" height="3.00"/><rect x="355.37" y="352.80" width="3.31" height="1.80"/><rect x="358.68" y="344.20" width="3.31" height="10.40"/><rect x="361.99" y="354.60" width="3.31" height="6.10"/><rect x="365.30" y="352.80" width="3.31" height="1.80"/><rect x="368.60" y="353.60" width="3.31" height="1.00"/><rect x="371.91" y="354.60" width="3.31" height="6.90"/><rect x="375.22" y="354.60" width="3.31" height="17.90"/><rect x="378.52" y="354.60" width="3.31" height="8.50"/><rect x="381.83" y="354.60" width="3.31" height="6.10"/><rect x="385.14" y="354.60" width="3.31" height="5.60"/><rect x="388.45" y="354.60" width="3.31" height="5.60"/><rect x="391.75" y="354.60" width="3.31" height="5.30"/><rect x="395.06" y="354.60" width="3.31" height="5.00"/><rect x="398.37" y="354.60" width="3.31" height="5.00"/><rect x="401.68" y="354.60" width="3.31" height="5.70"/><rect x="404.98" y="354.60" width="3.31" height="4.80"/><rect x="408.29" y="354.60" width="3.31" height="5.50"/><rect x="411.60" y="354.60" width="3.31" height="5.50"/><rect x="414.90" y="354.60" width="3.31" height="7.00"/><rect x="418.21" y="354.60" width="3.31" height="7.00"/><rect x="421.52" y="354.60" width="3.31" height="4.20"/><rect x="424.83" y="354.60" width="3.31" height="4.20"/><rect x="428.13" y="354.60" width="3.31" height="2.10"/><rect x="431.44" y="354.60" width="3.31" height="0.60"/><rect x="434.75" y="354.60" width="3.31" height="0.60"/><rect x="438.06" y="354.30" width="3.31" height="0.60"/><rect x="441.36" y="354.30" width="3.31" height="0.60"/><rect x="444.67" y="354.60" width="3.31" height="2.30"/><rect x="447.98" y="354.60" width="3.31" height="3.80"/><rect x="451.28" y="354.60" width="3.31" height="3.80"/><rect x="454.59" y="354.60" width="3.31" height="3.80"/><rect x="457.90" y="354.60" width="3.31" height="4.20"/><rect x="461.21" y="354.60" width="3.31" height="2.70"/><rect x="464.51" y="354.60" width="3.31" height="1.70"/><rect x="467.82" y="354.60" width="3.31" height="0.60"/><rect x="471.13" y="354.60" width="3.31" height="0.60"/><rect x="474.43" y="354.60" width="3.31" height="4.80"/><rect x="477.74" y="354.60" width="3.31" height="9.70"/><rect x="481.05" y="354.60" width="3.31" height="9.70"/><rect x="484.36" y="354.60" width="3.31" height="9.70"/><rect x="487.66" y="354.60" width="3.31" height="9.70"/><rect x="490.97" y="354.60" width="3.31" height="8.00"/><rect x="494.28" y="354.60" width="3.31" height="9.70"/><rect x="497.59" y="354.60" width="3.31" height="11.20"/><rect x="500.89" y="354.60" width="3.31" height="11.20"/></g><text x="395.1" y="307.6" font-size="7.2" text-anchor="middle" fill="#1a1a1a" >Papesca 2005-2013</text><text x="0" y="0" font-size="7.4" text-anchor="middle" fill="#1a1a1a" transform="translate(277.6 325.0) rotate(-90)">Rate (m/y)</text><text x="338.3" y="410.5" font-size="7.2" text-anchor="start" fill="#1a1a1a" >Transect number</text><text x="333.4" y="411" font-size="7.2" text-anchor="middle" fill="#1a1a1a" >20</text><text x="399.6" y="411" font-size="7.2" text-anchor="middle" fill="#1a1a1a" >40</text><text x="465.7" y="411" font-size="7.2" text-anchor="middle" fill="#1a1a1a" >60</text><path d="M268.0 422.1V542.1H504.5" stroke="#dadada" stroke-width="0.8" fill="none"/><path d="M266.0 422.10h2M266.0 437.10h2M266.0 452.10h2M266.0 467.10h2M266.0 482.10h2M266.0 497.10h2M266.0 512.10h2M266.0 527.10h2M266.0 542.10h2" stroke="#dadada" stroke-width="0.6" fill="none"/><path d="M269.80 542.1v-5M273.10 542.1v-5M276.40 542.1v-5M279.70 542.1v-5M283.00 542.1v-5M286.30 542.1v-5M289.60 542.1v-5M292.90 542.1v-5M296.20 542.1v-5M299.50 542.1v-5M302.80 542.1v-5M306.10 542.1v-5M309.40 542.1v-5M312.70 542.1v-5M316.00 542.1v-5M319.30 542.1v-5M322.60 542.1v-5M325.90 542.1v-5M329.20 542.1v-5M332.50 542.1v-5M335.80 542.1v-5M339.10 542.1v-5M342.40 542.1v-5M345.70 542.1v-5M349.00 542.1v-5M352.30 542.1v-5M355.60 542.1v-5M358.90 542.1v-5M362.20 542.1v-5M365.50 542.1v-5M368.80 542.1v-5M372.10 542.1v-5M375.40 542.1v-5M378.70 542.1v-5M382.00 542.1v-5M385.30 542.1v-5M388.60 542.1v-5M391.90 542.1v-5M395.20 542.1v-5M398.50 542.1v-5M401.80 542.1v-5M405.10 542.1v-5M408.40 542.1v-5M411.70 542.1v-5M415.00 542.1v-5M418.30 542.1v-5M421.60 542.1v-5M424.90 542.1v-5M428.20 542.1v-5M431.50 542.1v-5M434.80 542.1v-5M438.10 542.1v-5M441.40 542.1v-5M444.70 542.1v-5M448.00 542.1v-5M451.30 542.1v-5M454.60 542.1v-5M457.90 542.1v-5M461.20 542.1v-5M464.50 542.1v-5M467.80 542.1v-5M471.10 542.1v-5M474.40 542.1v-5M477.70 542.1v-5M481.00 542.1v-5M484.30 542.1v-5M487.60 542.1v-5M490.90 542.1v-5M494.20 542.1v-5M497.50 542.1v-5M500.80 542.1v-5M504.10 542.1v-5" stroke="#f1f1f1" stroke-width="0.6" fill="none"/><text x="261.5" y="424.70000000000005" font-size="7.2" text-anchor="end" fill="#1a1a1a" >1</text><text x="261.5" y="454.70000000000005" font-size="7.2" text-anchor="end" fill="#1a1a1a" >0.5</text><text x="261.5" y="484.70000000000005" font-size="7.2" text-anchor="end" fill="#1a1a1a" >0</text><text x="261.5" y="514.7" font-size="7.2" text-anchor="end" fill="#1a1a1a" >-0.5</text><text x="261.5" y="544.7" font-size="7.2" text-anchor="end" fill="#1a1a1a" >-1</text><g fill="#05fdf9" stroke="#18ccd2" stroke-width="0.35"><rect x="276.30" y="482.10" width="3.30" height="8.40"/><rect x="279.60" y="482.10" width="3.30" height="8.40"/><rect x="282.90" y="479.40" width="3.30" height="2.70"/><rect x="286.20" y="479.40" width="3.30" height="2.70"/><rect x="289.50" y="479.40" width="3.30" height="2.70"/><rect x="292.80" y="480.20" width="3.30" height="1.90"/><rect x="296.10" y="479.10" width="3.30" height="3.00"/><rect x="299.40" y="478.20" width="3.30" height="3.90"/><rect x="302.70" y="479.10" width="3.30" height="3.00"/><rect x="306.00" y="480.20" width="3.30" height="1.90"/><rect x="309.30" y="481.30" width="3.30" height="0.80"/><rect x="312.60" y="482.10" width="3.30" height="0.40"/><rect x="315.90" y="480.20" width="3.30" height="1.90"/><rect x="319.20" y="481.30" width="3.30" height="0.80"/><rect x="322.50" y="482.10" width="3.30" height="1.30"/><rect x="325.80" y="482.10" width="3.30" height="4.40"/><rect x="329.10" y="482.10" width="3.30" height="6.00"/><rect x="332.40" y="482.10" width="3.30" height="13.10"/><rect x="335.70" y="482.10" width="3.30" height="16.20"/><rect x="339.00" y="482.10" width="3.30" height="18.60"/><rect x="342.30" y="482.10" width="3.30" height="24.10"/><rect x="345.60" y="482.10" width="3.30" height="15.20"/><rect x="348.90" y="482.10" width="3.30" height="16.80"/><rect x="352.20" y="482.10" width="3.30" height="19.40"/><rect x="355.50" y="482.10" width="3.30" height="18.80"/><rect x="358.80" y="482.10" width="3.30" height="6.50"/><rect x="362.10" y="482.10" width="3.30" height="12.80"/><rect x="365.40" y="482.10" width="3.30" height="10.90"/><rect x="368.70" y="482.10" width="3.30" height="9.70"/><rect x="372.00" y="482.10" width="3.30" height="10.00"/><rect x="375.30" y="482.10" width="3.30" height="10.50"/><rect x="378.60" y="482.10" width="3.30" height="8.10"/><rect x="381.90" y="479.20" width="3.30" height="2.90"/><rect x="385.20" y="480.40" width="3.30" height="1.70"/><rect x="388.50" y="480.70" width="3.30" height="1.40"/><rect x="391.80" y="474.40" width="3.30" height="7.70"/><rect x="395.10" y="480.00" width="3.30" height="2.10"/><rect x="398.40" y="469.40" width="3.30" height="12.70"/><rect x="401.70" y="468.90" width="3.30" height="13.20"/><rect x="405.00" y="471.60" width="3.30" height="10.50"/><rect x="408.30" y="472.60" width="3.30" height="9.50"/><rect x="411.60" y="472.90" width="3.30" height="9.20"/><rect x="414.90" y="474.10" width="3.30" height="8.00"/><rect x="418.20" y="475.20" width="3.30" height="6.90"/><rect x="421.50" y="474.70" width="3.30" height="7.40"/><rect x="424.80" y="475.00" width="3.30" height="7.10"/><rect x="428.10" y="475.70" width="3.30" height="6.40"/><rect x="431.40" y="475.40" width="3.30" height="6.70"/><rect x="434.70" y="474.50" width="3.30" height="7.60"/><rect x="438.00" y="474.00" width="3.30" height="8.10"/><rect x="441.30" y="475.70" width="3.30" height="6.40"/><rect x="444.60" y="477.50" width="3.30" height="4.60"/><rect x="447.90" y="478.90" width="3.30" height="3.20"/><rect x="451.20" y="479.70" width="3.30" height="2.40"/><rect x="454.50" y="480.90" width="3.30" height="1.20"/><rect x="457.80" y="481.80" width="3.30" height="0.60"/><rect x="461.10" y="482.10" width="3.30" height="1.10"/><rect x="464.40" y="482.10" width="3.30" height="1.60"/><rect x="467.70" y="482.10" width="3.30" height="2.80"/><rect x="471.00" y="482.10" width="3.30" height="4.00"/><rect x="474.30" y="482.10" width="3.30" height="4.60"/><rect x="477.60" y="482.10" width="3.30" height="5.40"/><rect x="480.90" y="482.10" width="3.30" height="6.30"/><rect x="484.20" y="482.10" width="3.30" height="7.50"/><rect x="487.50" y="482.10" width="3.30" height="8.90"/><rect x="490.80" y="482.10" width="3.30" height="10.30"/><rect x="494.10" y="482.10" width="3.30" height="11.50"/><rect x="497.40" y="482.10" width="3.30" height="13.20"/><rect x="500.70" y="482.10" width="3.30" height="16.70"/></g><text x="399.1" y="438.3" font-size="7.2" text-anchor="middle" fill="#1a1a1a" >Papesca 1954-2013</text><text x="0" y="0" font-size="7.4" text-anchor="middle" fill="#1a1a1a" transform="translate(279.0 457.9) rotate(-90)">Rate (m/y)</text><text x="333" y="538.5" font-size="7.2" text-anchor="middle" fill="#1a1a1a" >20</text><text x="400" y="538.5" font-size="7.2" text-anchor="middle" fill="#1a1a1a" >40</text><text x="465.5" y="538.5" font-size="7.2" text-anchor="middle" fill="#1a1a1a" >60</text><g><defs><clipPath id="landclip"><polygon points="13.9,422.7 19.9,425.1 27.7,429.8 35.6,436.1 38.8,436.9 39.5,440.8 38.0,444.8 37.4,448.5 41.9,451.1 47.4,452.6 52.9,457.5 58.4,460.8 69.4,461.8 83.2,462.4 94.3,461.8 101.1,461.5 108.3,462.3 115.2,463.2 120.7,464.6 124.1,468.8 128.9,473.6 134.4,478.4 140.0,483.2 145.5,488.1 152.4,491.5 159.3,494.3 165.0,496.0 178.4,497.6 190.1,496.8 198.5,492.6 206.8,489.3 215.2,488.4 223.6,489.3 231.9,486.8 237.0,483.4 240.3,480.1 243.6,479.2 245.6,478.5 245.6,546.0 13.9,546.0"/></clipPath><filter id="tex" x="0" y="0" width="1" height="1" color-interpolation-filters="sRGB"><feTurbulence type="turbulence" baseFrequency="0.15 0.11" numOctaves="3" seed="3" result="r1"/><feColorMatrix in="r1" type="matrix" values="1.1 0 0 0 0.30  1.1 0 0 0 0.30  1.1 0 0 0 0.30  0 0 0 0 1" result="a"/><feTurbulence type="turbulence" baseFrequency="0.08 0.06" numOctaves="2" seed="8" result="r2"/><feColorMatrix in="r2" type="matrix" values="-7 0 0 0 1.05  -7 0 0 0 1.05  -7 0 0 0 1.05  0 0 0 0 1" result="b"/><feBlend in="a" in2="b" mode="lighten"/><feGaussianBlur stdDeviation="0.35"/></filter><filter id="streak" x="0" y="0" width="1" height="1" color-interpolation-filters="sRGB"><feTurbulence type="turbulence" baseFrequency="0.035 0.3" numOctaves="3" seed="12"/><feColorMatrix type="matrix" values="1.2 0 0 0 0.3  1.2 0 0 0 0.3  1.2 0 0 0 0.3  0 0 0 0 1"/><feGaussianBlur stdDeviation="0.4"/></filter><radialGradient id="fadeA" cx="28" cy="470" r="55" gradientUnits="userSpaceOnUse"><stop offset="0" stop-color="#fff" stop-opacity="0.8"/><stop offset="0.55" stop-color="#fff" stop-opacity="0.6"/><stop offset="1" stop-color="#fff" stop-opacity="0"/></radialGradient><mask id="maskA"><rect x="0" y="410" width="100" height="140" fill="url(#fadeA)"/></mask><radialGradient id="fadeC" cx="212" cy="528" r="40" gradientUnits="userSpaceOnUse"><stop offset="0" stop-color="#fff" stop-opacity="0.7"/><stop offset="0.6" stop-color="#fff" stop-opacity="0.5"/><stop offset="1" stop-color="#fff" stop-opacity="0"/></radialGradient><mask id="maskC"><rect x="150" y="480" width="100" height="70" fill="url(#fadeC)"/></mask><filter id="hstreak" x="0" y="0" width="1" height="1" color-interpolation-filters="sRGB"><feTurbulence type="turbulence" baseFrequency="0.05 0.28" numOctaves="3" seed="21"/><feColorMatrix type="matrix" values="1.2 0 0 0 0.3  1.2 0 0 0 0.3  1.2 0 0 0 0.3  0 0 0 0 1"/><feGaussianBlur stdDeviation="0.35"/></filter><filter id="soft" x="-0.2" y="-0.2" width="1.4" height="1.4"><feGaussianBlur stdDeviation="2.5"/></filter></defs><rect x="13.6" y="414.2" width="231.8" height="131.8" fill="#fff" stroke="#d4d4d4" stroke-width="0.8"/><g clip-path="url(#landclip)"><rect x="13" y="420" width="234" height="127" fill="#aaa" filter="url(#tex)"/><g mask="url(#maskA)"><g transform="rotate(55 40 470)"><rect x="-60" y="370" width="200" height="200" filter="url(#streak)"/></g></g><g mask="url(#maskC)"><g transform="rotate(-8 212 528)"><rect x="150" y="470" width="130" height="90" filter="url(#hstreak)"/></g></g><g filter="url(#soft)" fill="#000"><ellipse cx="150" cy="500" rx="14" ry="8" opacity="0.18"/><ellipse cx="184" cy="516" rx="15" ry="10" opacity="0.38"/><ellipse cx="150" cy="503" rx="12" ry="7" opacity="0.25"/><ellipse cx="242" cy="490" rx="6" ry="10" opacity="0.35"/><ellipse cx="24" cy="432" rx="10" ry="5" opacity="0.2"/><ellipse cx="37" cy="442" rx="3" ry="5" opacity="0.5"/><polygon points="14,424 26,431 38,437 40,442 37,449 28,445 14,436" opacity="0.45"/><ellipse cx="95" cy="491" rx="10" ry="8" fill="#fff" opacity="0.55"/></g><polyline points="37.4,456.5 41.9,459.1 47.4,460.6 52.9,465.5 58.4,468.8 69.4,469.8 83.2,470.4 94.3,469.8 101.1,469.5 108.3,470.3 115.2,471.2 120.7,472.6 124.1,476.8 128.9,481.6 134.4,486.4 140.0,491.2 145.5,496.1 152.4,499.5 159.3,502.3 165.0,504.0 178.4,505.6 190.1,504.8 198.5,500.6 206.8,497.3 215.2,496.4 223.6,497.3 231.9,494.8 237.0,491.4 240.3,488.1 243.6,487.2 245.6,486.5" fill="none" stroke="#000" stroke-width="12" opacity="0.35" filter="url(#soft)"/><rect x="13" y="543" width="234" height="3" fill="#555" opacity="0.35"/></g><polyline points="14.5,467.0 23.4,490.7 33.0,507.0 38.5,515.0 42.3,519.0 59.2,520.2 73.4,519.2 82.9,514.5 92.3,511.0 106.5,509.3 120.7,509.8 132.1,513.0 139.2,517.7 146.3,523.0 152.2,528.9 159.3,534.3 166.3,537.2 172.2,537.2 177.0,534.8 182.9,529.5 194.3,521.0 203.2,516.5 220.9,510.3 233.3,505.9 245.0,501.0" fill="none" stroke="#444" stroke-width="2.2" opacity="0.4"/><polyline points="14.5,467.0 23.4,490.7 33.0,507.0 38.5,515.0 42.3,519.0 59.2,520.2 73.4,519.2 82.9,514.5 92.3,511.0 106.5,509.3 120.7,509.8 132.1,513.0 139.2,517.7 146.3,523.0 152.2,528.9 159.3,534.3 166.3,537.2 172.2,537.2 177.0,534.8 182.9,529.5 194.3,521.0 203.2,516.5 220.9,510.3 233.3,505.9 245.0,501.0" fill="none" stroke="#fcfcfc" stroke-width="1.4"/><linearGradient id="sbg" x1="0" y1="0" x2="0" y2="1"><stop offset="0" stop-color="#f2f2f2"/><stop offset="1" stop-color="#d8d8d8"/></linearGradient><rect x="24.8" y="525.2" width="125" height="16.1" fill="url(#sbg)" stroke="#666" stroke-width="0.6"/><path d="M33.5 529.5H143" stroke="#222" stroke-width="0.7"/><path d="M33.5 526.9v5.4M48.9 526.9v5.4M64.6 526.9v5.4M80.4 526.9v5.4M96.1 526.9v5.4M111.9 526.9v5.4M127.6 526.9v5.4M143.0 526.9v5.4" stroke="#333" stroke-width="0.6"/><text x="35" y="539" font-size="3.8" text-anchor="middle" fill="#333" style="stroke:#333;stroke-width:0.1px">0 m</text><text x="49.5" y="539" font-size="3.8" text-anchor="middle" fill="#333" style="stroke:#333;stroke-width:0.1px">50 m</text><text x="80.4" y="539" font-size="3.8" text-anchor="middle" fill="#333" style="stroke:#333;stroke-width:0.1px">150 m</text><text x="111" y="539" font-size="3.8" text-anchor="middle" fill="#333" style="stroke:#333;stroke-width:0.1px">250 m</text><text x="143" y="539" font-size="3.8" text-anchor="middle" fill="#333" style="stroke:#333;stroke-width:0.1px">350 m</text><polygon points="39.2,436.9 48.8,437.9 62.6,439.0 76.3,440.1 90.1,441.1 100.0,443.3 108.3,446.2 116.5,450.2 124.8,455.7 133.1,461.9 141.3,468.1 149.6,473.6 157.9,477.7 165.0,481.4 170.0,483.0 181.7,484.3 198.5,484.3 215.2,482.6 231.9,479.2 234.6,478.2 234.6,487.0 231.3,489.0 227.9,490.0 224.6,491.0 221.2,491.0 217.9,490.7 214.5,490.5 211.2,490.8 207.9,491.2 204.5,492.2 201.2,493.5 197.8,494.9 194.5,496.6 191.1,498.3 187.8,499.0 184.5,499.2 181.1,499.4 177.8,499.5 174.4,499.1 171.1,498.7 167.8,498.3 164.4,497.8 161.1,496.8 157.7,495.7 154.4,494.3 151.0,492.8 147.7,491.2 144.4,489.1 141.0,486.1 137.7,483.2 134.3,480.3 131.0,477.4 127.6,474.3 124.3,471.0 121.0,466.9 117.6,465.8 114.3,465.1 110.9,464.6 107.6,464.2 104.2,463.8 100.9,463.5 97.6,463.7 94.2,463.8 90.9,464.0 87.5,464.2 84.2,464.3 80.9,464.3 77.5,464.2 74.2,464.0 70.8,463.9 67.5,463.6 64.1,463.3 60.8,463.0 57.5,462.2 54.1,460.2 50.8,457.6 47.4,454.6 44.1,453.7 40.7,452.4 37.4,450.5" fill="#fbe8f5"/><path d="M39.80 436.96L35.46 452.46M42.30 437.22L37.96 452.72M44.80 437.48L40.18 453.98M47.30 437.74L42.40 455.24M49.80 437.98L44.90 455.48M52.30 438.18L47.26 456.18M54.80 438.38L49.34 457.88M57.30 438.58L51.28 460.08M59.80 438.78L53.36 461.78M62.30 438.98L55.58 462.98M64.80 439.18L57.80 464.18M67.30 439.38L60.16 464.88M69.80 439.58L62.66 465.08M72.30 439.78L65.16 465.28M74.80 439.98L67.66 465.48M77.30 440.17L70.16 465.67M79.80 440.35L72.66 465.85M82.30 440.53L75.16 466.03M84.80 440.72L77.80 465.72M87.30 440.90L80.30 465.90M89.80 441.08L82.80 466.08M92.30 441.59L85.44 466.09M94.80 442.14L88.22 465.64M97.30 442.70L90.86 465.70M99.80 443.26L93.50 465.76M102.30 444.10L96.28 465.60M104.80 444.98L99.06 465.48M107.30 445.85L101.84 465.35M109.80 446.93L104.62 465.43M112.30 448.15L107.26 466.15M114.80 449.37L110.04 466.37M117.30 450.73L112.82 466.73M119.80 452.39L115.74 466.89M122.30 454.04L118.38 468.04M124.80 455.70L121.16 468.70M127.30 457.57L123.38 471.57M129.80 459.43L125.60 474.43M132.30 461.30L128.10 476.30M134.80 463.19L130.46 478.69M137.30 465.08L132.82 481.08M139.80 466.97L135.32 482.97M142.30 468.76L137.68 485.26M144.80 470.42L140.18 486.92M147.30 472.08L142.54 489.08M149.80 473.70L144.90 491.20M152.30 474.93L147.62 492.93M154.80 476.17L150.52 494.17M157.30 477.40L153.30 495.90M159.80 478.69L156.30 496.69M162.30 479.99L159.20 497.99M164.80 481.30L162.17 498.80M167.30 482.14L165.05 499.64M169.80 482.94L167.99 499.94M172.30 483.26L170.86 500.26M174.80 483.53L173.70 501.03M177.30 483.81L176.58 501.31M179.80 484.09L179.47 501.09M182.30 484.30L182.30 501.30M184.80 484.30L184.80 500.80M187.30 484.30L187.30 500.80M189.80 484.30L189.80 500.80M192.30 484.30L192.30 499.30M194.80 484.30L194.80 498.30M197.30 484.30L197.30 496.80M199.80 484.17L199.80 495.67M202.30 483.91L202.30 494.91M204.80 483.66L204.80 493.66M207.30 483.40L207.30 492.90M209.80 483.15L209.80 492.65M212.30 482.90L212.30 492.40M214.80 482.64L214.80 492.14M217.30 482.17L217.30 492.17M219.80 481.66L219.80 492.66M222.30 481.15L222.30 493.15M224.80 480.65L224.80 492.65M227.30 480.14L227.30 492.14M229.80 479.63L229.80 491.13M232.30 479.05L232.30 490.05" stroke="#c45aa2" stroke-width="1.0" fill="none" opacity="0.8"/><polygon points="37.4,448.5 41.9,451.1 47.4,452.6 52.9,457.5 58.4,460.8 69.4,461.8 83.2,462.4 94.3,461.8 101.1,461.5 108.3,462.3 115.2,463.2 120.7,464.6 124.1,468.8 128.9,473.6 134.4,478.4 140.0,483.2 145.5,488.1 152.4,491.5 159.3,494.3 165.0,496.0 178.4,497.6 190.1,496.8 198.5,492.6 206.8,489.3 215.2,488.4 223.6,489.3 231.9,486.8 237.0,483.4 240.3,480.1 243.6,479.2 245.6,478.5 245.6,484.0 243.6,484.7 240.3,485.6 237.0,488.9 231.9,492.3 223.6,494.8 215.2,493.9 206.8,494.8 198.5,498.1 190.1,502.3 178.4,503.1 165.0,501.5 159.3,499.8 152.4,497.0 145.5,493.6 140.0,488.7 134.4,483.9 128.9,479.1 124.1,474.3 120.7,470.1 115.2,468.7 108.3,467.8 101.1,467.0 94.3,467.3 83.2,467.9 69.4,467.3 58.4,466.3 52.9,463.0 47.4,458.1 41.9,456.6 37.4,454.0" fill="#a0306e" opacity="0.4"/><polygon points="34,448 40,446 44,452 47,457 40,460 34,458" fill="#c04f90" opacity="0.35"/><polyline points="38.0,444.8 37.4,448.5 41.9,451.1 47.4,452.6 52.9,457.5 58.4,460.8 69.4,461.8 83.2,462.4 94.3,461.8 101.1,461.5 108.3,462.3 115.2,463.2 120.7,464.6 124.1,468.8 128.9,473.6 134.4,478.4 140.0,483.2 145.5,488.1 152.4,491.5" fill="none" stroke="#2e0a26" stroke-width="1.3"/><polyline points="152.4,491.9 154.1,493.0 155.9,493.8 157.6,495.0 159.3,495.1 161.2,496.2 163.1,493.9 165.0,495.9 166.7,497.6 168.3,496.9 170.0,497.9 171.7,495.6 173.4,496.9 175.1,496.4 176.7,497.5 178.4,497.8 180.1,495.9 181.7,496.5 183.4,496.6 185.1,498.5 186.8,497.9 188.4,495.8 190.1,497.8 191.8,494.8 193.5,495.5 195.1,493.1 196.8,491.8 198.5,493.8 200.2,491.0 201.8,490.4 203.5,492.2 205.1,491.2 206.8,488.6 208.5,490.6 210.2,489.1 211.8,489.3 213.5,487.6 215.2,489.8 216.9,489.2 218.6,490.3 220.2,490.2 221.9,488.5 223.6,488.9 225.3,487.7 226.9,487.2 228.6,486.4 230.2,486.7 231.9,487.1 233.6,484.1 235.3,485.1 237.0,482.9 238.7,481.1 240.3,481.1 241.9,479.6 243.6,478.6 245.6,478.5" fill="none" stroke="#5a1446" stroke-width="1.1" opacity="0.85"/><polyline points="14.8,428.2 18.3,431.4 23.8,433.7 29.3,436.5 34.8,438.1 38.0,438.5 39.2,440.8 38.0,444.8 37.4,448.5" fill="none" stroke="#111" stroke-width="1.2"/><circle cx="45.5" cy="434.1" r="0.8" fill="#111"/><text x="48" y="432.2" font-size="6.6" text-anchor="middle" fill="#222">1</text><circle cx="103" cy="441.4" r="0.8" fill="#111"/><text x="106.2" y="438.6" font-size="6.6" text-anchor="middle" fill="#222">20</text><circle cx="156.3" cy="475.0" r="0.8" fill="#111"/><text x="159.3" y="473.2" font-size="6.6" text-anchor="middle" fill="#222">40</text><circle cx="208.2" cy="480.9" r="0.8" fill="#111"/><text x="208.7" y="476.6" font-size="6.6" text-anchor="middle" fill="#222">60</text><text x="0" y="0" font-size="5.4" fill="#111" transform="translate(69.1 427.9) rotate(-90)" text-anchor="middle" dominant-baseline="central" style="stroke:#111;stroke-width:0.3px">N</text><path d="M74.3 428.2 L87.8 423.4 L83.8 428.2 Z" fill="#fff" stroke="#111" stroke-width="1.1" stroke-linejoin="miter"/><path d="M74.3 428.2 L83.8 428.2 L87.8 432.4 Z" fill="#111" stroke="#111" stroke-width="0.9"/><path d="M149.7 414.7 H223.6" stroke="#8a22a8" stroke-width="1.7"/><text x="186.5" y="423.6" font-size="7.3" text-anchor="middle" fill="#87479c" style="stroke:#87479c;stroke-width:0.12px">Canyon head</text></g>
</svg></body></html>
